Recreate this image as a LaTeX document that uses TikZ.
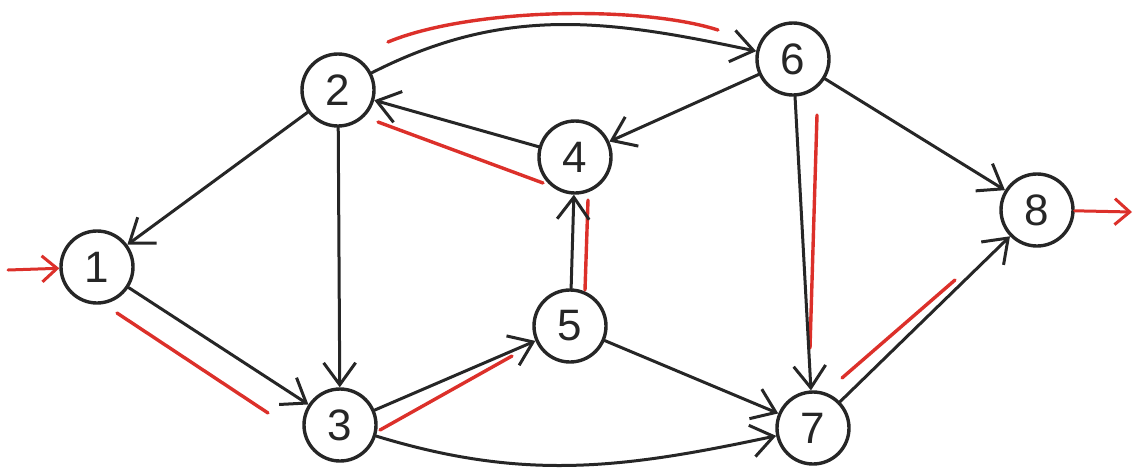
\documentclass[tikz,border=0pt]{standalone}
\usepackage{fontspec}
\setmainfont{Liberation Sans}
\usetikzlibrary{arrows.meta}
\definecolor{ink}{RGB}{38,38,38}
\definecolor{pen}{RGB}{220,48,42}
\begin{document}
\begin{tikzpicture}[x=1pt,y=1pt,
  vert/.style={circle, draw=ink, line width=3.4pt, minimum size=72pt, inner sep=0pt,
    text=ink, font=\fontsize{44}{44}\selectfont},
  edge/.style={draw=ink, line width=3pt, line cap=round,
    -{Straight Barb[length=22pt,width=32pt,line width=3pt]}},
  hl/.style={draw=pen, line width=3.4pt, line cap=round},
  io/.style={draw=pen, line width=3pt, line cap=round,
    -{Straight Barb[length=15pt,width=26pt,line width=3pt]}}]
\useasboundingbox (0,0) rectangle (1135,-467);
\node[vert] (n1) at (97,-267) {1};
\node[vert] (n2) at (338,-90) {2};
\node[vert] (n3) at (340,-425) {3};
\node[vert] (n4) at (575,-157) {4};
\node[vert] (n5) at (570,-326) {5};
\node[vert] (n6) at (793,-59) {6};
\node[vert] (n7) at (813,-428) {7};
\node[vert] (n8) at (1037,-210) {8};
\coordinate (in0) at (8,-270);
\coordinate (out0) at (1132,-212);
% red highlights
\draw[hl] (388,-42) .. controls (470,-8) and (640,-5) .. (718,-30);
\draw[hl] (378,-122) -- (543,-183);
\draw[hl] (588,-200) -- (585,-290);
\draw[hl] (117,-313) -- (268,-413);
\draw[hl] (380,-430) -- (512,-356);
\draw[hl] (817,-115) -- (810,-348);
\draw[hl] (842,-378) -- (955,-280);
% black edges
\draw[edge] (n2) -- (n1);
\draw[edge] (n1) -- (n3);
\draw[edge] (n2) -- (n3);
\draw[edge] (n2) to[out=27,in=168] (n6);
\draw[edge] (n4) -- (n2);
\draw[edge] (n6) -- (n4);
\draw[edge] (n5) -- (n4);
\draw[edge] (n3) -- (n5);
\draw[edge] (n3) to[out=-17,in=-168] (n7);
\draw[edge] (n5) -- (n7);
\draw[edge] (n6) -- (n7);
\draw[edge] (n6) -- (n8);
\draw[edge] (n7) -- (n8);
% input / output
\draw[io] (in0) -- (n1);
\draw[io] (n8) -- (out0);
\end{tikzpicture}
\end{document}
